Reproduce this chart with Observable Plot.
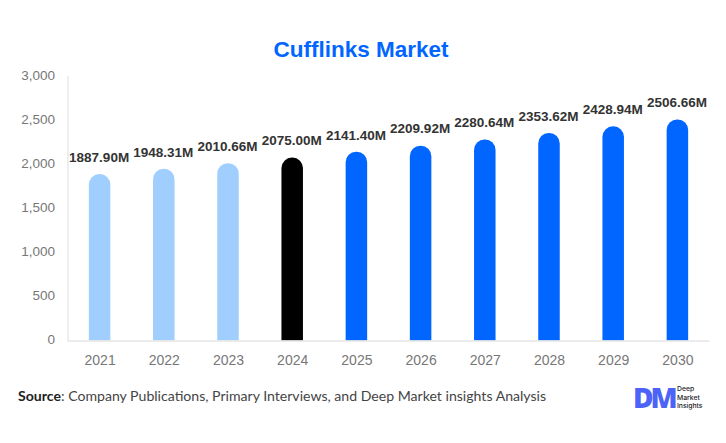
<!DOCTYPE html>
<html>
<head>
<meta charset="utf-8">
<script src="https://cdn.jsdelivr.net/npm/d3@7"></script>
<script src="https://cdn.jsdelivr.net/npm/@observablehq/plot@0.6"></script>
<style>
  html, body { margin: 0; padding: 0; background: #fff; }
  #page { position: relative; width: 726px; height: 443px; overflow: hidden; }
  #title { height: 60px; box-sizing: border-box; padding-top: 36px; padding-right: 4px; text-align: center; font: bold 22.5px "Liberation Sans", sans-serif; line-height: 28px; color: #0066ff; }
  #source { position: absolute; left: 18px; top: 386px; font: 14.1px Lato, sans-serif; line-height: 20px; color: #444; white-space: nowrap; }
  #source b { font-weight: 700; color: #222; }
  #logo { position: absolute; left: 633px; top: 383px; font: 800 28px "Open Sans", sans-serif; line-height: 28px; letter-spacing: -3px; color: #4d63f7; }
  #brand { position: absolute; left: 677px; top: 385px; font: 500 6.8px/8.6px Inter, sans-serif; color: #222; }
  svg { display: block; }
</style>
</head>
<body>
<div id="page">
  <div id="title">Cufflinks Market</div>
  <div id="chart"></div>
  <div id="source"><b>Source</b>: Company Publications, Primary Interviews, and Deep Market insights Analysis</div>
  <div id="logo">DM</div>
  <div id="brand">Deep<br>Market<br>Insights</div>
</div>
<script>
const years = ["2021","2022","2023","2024","2025","2026","2027","2028","2029","2030"];
const values = [1887.90,1948.31,2010.66,2075.00,2141.40,2209.92,2280.64,2353.62,2428.94,2506.66];
const labels = ["1887.90M","1948.31M","2010.66M","2075.00M","2141.40M","2209.92M","2280.64M","2353.62M","2428.94M","2506.66M"];
const phases = ["history","history","history","base","forecast","forecast","forecast","forecast","forecast","forecast"];
const phaseNames = ["history","base","forecast"];
const phaseColors = ["#a0cfff","#000000","#0066ff"];
const yTicks = [0,500,1000,1500,2000,2500,3000];

const rows = years.map((year, i) => ({year, value: values[i], label: labels[i], phase: phases[i]}));

const chart = Plot.plot({
  width: 726,
  height: 320,
  marginTop: 16,
  marginBottom: 39.5,
  marginLeft: 67.5,
  marginRight: 16.5,
  style: {background: "#fff", overflow: "visible"},
  x: {domain: years, paddingInner: 0.665, paddingOuter: 0.3325, align: 0.5, round: false, label: null},
  y: {domain: [0, 3000], label: null},
  color: {domain: phaseNames, range: phaseColors},
  marks: [
    Plot.barY(rows, {x: "year", y: "value", fill: "phase", ry1: 10.5}),
    Plot.frame({anchor: "left", stroke: "#dddddd"}),
    Plot.ruleY([0], {stroke: "#e6e6e6", strokeWidth: 1.5}),
    Plot.axisY({ticks: yTicks, tickSize: 0, tickPadding: 13, dy: -1, tickFormat: d3.format(","), fontSize: 13.5, fontFamily: "Liberation Sans", color: "#777", label: null}),
    Plot.axisX({tickSize: 0, tickPadding: 14, fontSize: 14, fontFamily: "Liberation Sans", color: "#777", label: null}),
    Plot.text(rows, {x: "year", y: "value", text: "label", dy: -17, dx: -1, fontSize: 13.5, fontWeight: "bold", fontFamily: "Liberation Sans", fill: "#333"})
  ]
});
document.getElementById("chart").appendChild(chart);
</script>
</body>
</html>
